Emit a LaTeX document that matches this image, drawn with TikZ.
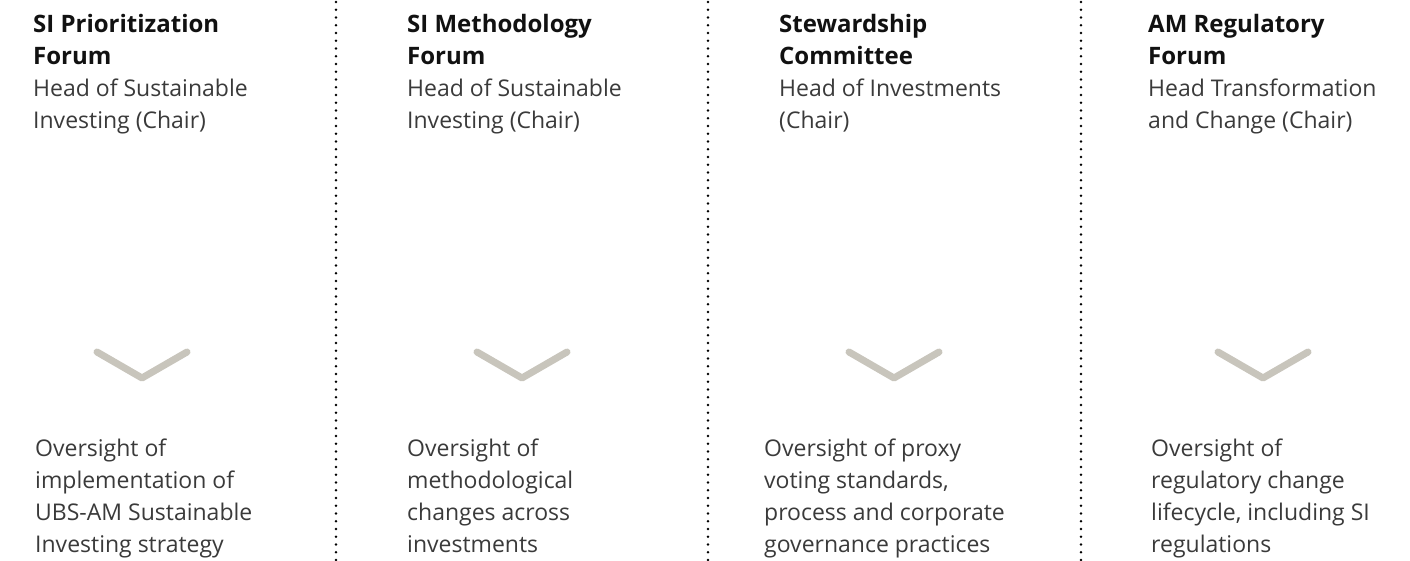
\documentclass[tikz,border=0pt]{standalone}
\usepackage{fontspec}
\setmainfont{Open Sans}
\definecolor{chev}{HTML}{C8C5BC}
\definecolor{txt}{HTML}{3A3A3A}
\definecolor{head}{HTML}{111111}
\begin{document}
\begin{tikzpicture}[x=1pt,y=1pt,
  headtxt/.style={anchor=base west,inner sep=0pt,align=left,font=\fontsize{24}{32}\selectfont\bfseries,text=head},
  roletxt/.style={anchor=base west,inner sep=0pt,align=left,font=\fontsize{23}{32}\selectfont,text=txt},
  desctxt/.style={anchor=base west,inner sep=0pt,align=left,font=\fontsize{23}{32}\selectfont,text=txt},
  sepline/.style={line width=2.6pt,line cap=round,dash pattern=on 0pt off 7.75pt},
  chevron/.style={draw=chev,line width=7pt,line cap=round,line join=round}]
\useasboundingbox (0,0) rectangle (1410,-560);
% separators
\foreach \x/\n in {336/s1,708/s2,1081/s3}{
  \coordinate (\n t) at (\x,-2);
  \coordinate (\n b) at (\x,-565);
  \draw[sepline] (\n t) -- (\n b);
}
% column 1 (anchors at last-line baselines)
\node[headtxt] (h1) at (33,-64) {SI Prioritization\\Forum};
\node[roletxt] (r1) at (33,-128) {Head of Sustainable\\Investing (Chair)};
\coordinate (c1a) at (97,-352); \coordinate (c1b) at (142,-378); \coordinate (c1c) at (187,-352);
\draw[chevron] (c1a) -- (c1b) -- (c1c);
\node[desctxt] (d1) at (35,-552) {Oversight of\\implementation of\\UBS-AM Sustainable\\Investing strategy};
% column 2
\node[headtxt] (h2) at (407,-64) {SI Methodology\\Forum};
\node[roletxt] (r2) at (407,-128) {Head of Sustainable\\Investing (Chair)};
\coordinate (c2a) at (477,-352); \coordinate (c2b) at (522,-378); \coordinate (c2c) at (567,-352);
\draw[chevron] (c2a) -- (c2b) -- (c2c);
\node[desctxt] (d2) at (407,-552) {Oversight of\\methodological\\changes across\\investments};
% column 3
\node[headtxt] (h3) at (779,-64) {Stewardship\\Committee};
\node[roletxt] (r3) at (779,-128) {Head of Investments\\(Chair)};
\coordinate (c3a) at (849,-352); \coordinate (c3b) at (894,-378); \coordinate (c3c) at (939,-352);
\draw[chevron] (c3a) -- (c3b) -- (c3c);
\node[desctxt] (d3) at (764,-552) {Oversight of proxy\\voting standards,\\process and corporate\\governance practices};
% column 4
\node[headtxt] (h4) at (1148,-64) {AM Regulatory\\Forum};
\node[roletxt] (r4) at (1148,-128) {Head Transformation\\and Change (Chair)};
\coordinate (c4a) at (1218,-352); \coordinate (c4b) at (1263,-378); \coordinate (c4c) at (1308,-352);
\draw[chevron] (c4a) -- (c4b) -- (c4c);
\node[desctxt] (d4) at (1151,-552) {Oversight of\\regulatory change\\lifecycle, including SI\\regulations};
\end{tikzpicture}
\end{document}
